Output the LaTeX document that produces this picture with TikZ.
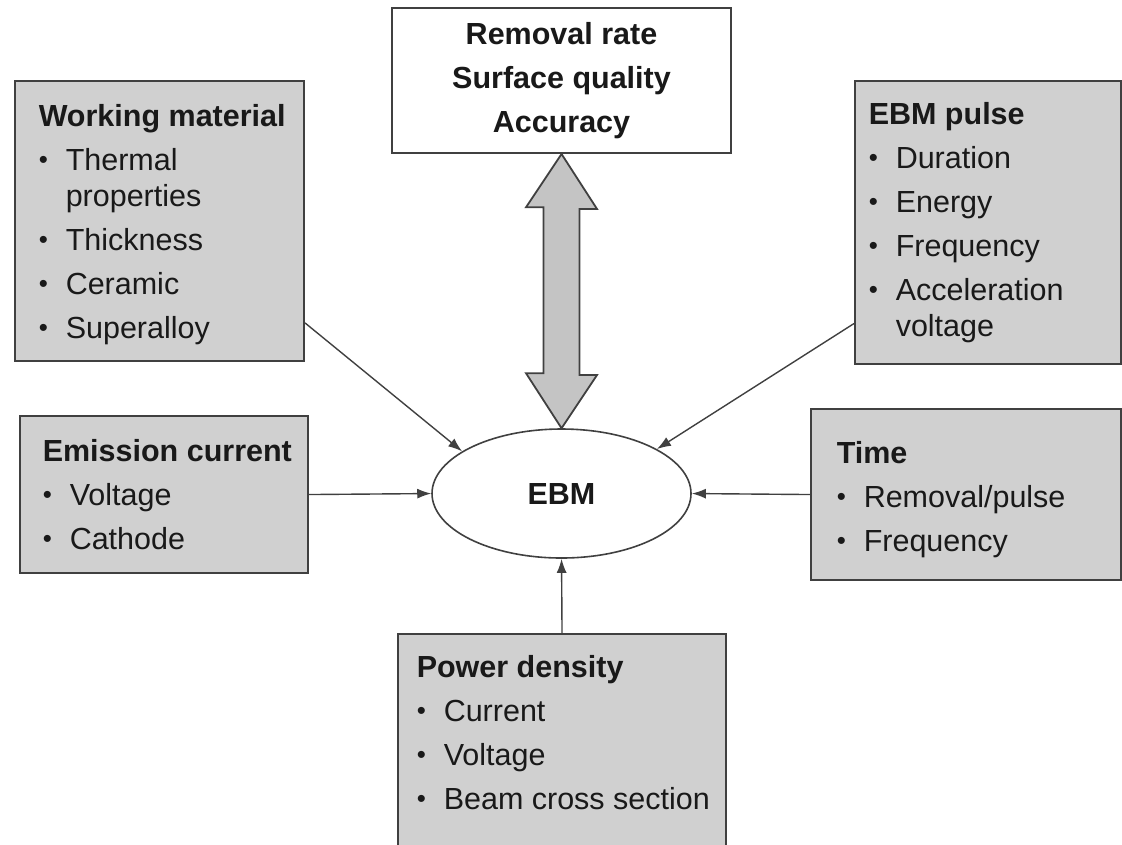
\documentclass[tikz,border=0pt]{standalone}
\usepackage{fontspec}
\setmainfont{Liberation Sans}
\usetikzlibrary{arrows.meta,shapes.geometric,positioning}
\definecolor{boxgray}{RGB}{208,208,208}
\definecolor{arrowgray}{RGB}{196,196,196}
\definecolor{linegray}{RGB}{64,64,64}
\definecolor{inkgray}{RGB}{25,25,25}
\newcommand{\boxfont}{\fontsize{15.25}{22}\selectfont}
\newcommand{\itm}[1]{\makebox[13.5pt][l]{\raisebox{1pt}{\scalebox{0.85}{\textbullet}}}#1}
\newcommand{\wrp}[1]{\hspace*{13.5pt}#1}
\tikzset{every picture/.style={line width=0.75pt}}
\tikzset{
  graybox/.style={draw=linegray, fill=boxgray, line width=1pt, anchor=north west, inner sep=0pt},
  listtext/.style={anchor=north west, inner sep=0pt, align=left, text=inkgray, font=\boxfont},
  resultbox/.style={draw=linegray, fill=white, line width=1pt, align=center, text=inkgray, font=\boxfont\bfseries},
  ebmnode/.style={ellipse, draw=linegray, fill=white, line width=0.8pt, inner sep=0pt, text=inkgray, font=\boxfont\bfseries},
  conn/.style={draw=linegray, line width=0.7pt, -{Latex[length=7pt,width=5pt]}},
  fatarrow/.style={draw=linegray, fill=arrowgray, line width=0.9pt, line join=miter}
}

\begin{document}
\begin{tikzpicture}[x=0.75pt,y=0.75pt,yscale=-0.6667,xscale=0.6667]
\useasboundingbox (0,0) rectangle (1122,844);

%Shape: Rectangle (output)
\node[resultbox, minimum width=169.5pt, minimum height=72.5pt] (res) at (561.5,80.5) {Removal rate\\Surface quality\\Accuracy};
%Shape: Ellipse
\node[ebmnode, minimum width=129.5pt, minimum height=64.5pt] (ebm) at (561.5,493.5) {EBM};

%Shape: Rectangle (working material)
\node[graybox, minimum width=144.5pt, minimum height=140pt] (wm) at (14,80) {};
% Text Node
\node[listtext] (wmtxt) at (38,104) {\textbf{Working material}\\
  \itm{Thermal}\\[-4pt]\wrp{properties}\\
  \itm{Thickness}\\
  \itm{Ceramic}\\
  \itm{Superalloy}};

%Shape: Rectangle (pulse)
\node[graybox, minimum width=133pt, minimum height=141.5pt] (pulse) at (854,80) {};
% Text Node
\node[listtext] (pulsetxt) at (868,102) {\textbf{EBM pulse}\\
  \itm{Duration}\\
  \itm{Energy}\\
  \itm{Frequency}\\
  \itm{Acceleration}\\[-4pt]\wrp{voltage}};

%Shape: Rectangle (emission)
\node[graybox, minimum width=144pt, minimum height=78.5pt] (emis) at (19,415) {};
% Text Node
\node[listtext] (emistxt) at (42,439) {\textbf{Emission current}\\
  \itm{Voltage}\\
  \itm{Cathode}};

%Shape: Rectangle (time)
\node[graybox, minimum width=155pt, minimum height=85.5pt] (time) at (810,408) {};
% Text Node
\node[listtext] (timetxt) at (836,441) {\textbf{Time}\\
  \itm{Removal/pulse}\\
  \itm{Frequency}};

%Shape: Rectangle (power)
\node[graybox, minimum width=164pt, minimum height=107.5pt] (power) at (397,633) {};
% Text Node
\node[listtext] (powertxt) at (416,655) {\textbf{Power density}\\
  \itm{Current}\\
  \itm{Voltage}\\
  \itm{Beam cross section}};

%Double Arrow
\draw[fatarrow] (res.south) -- ++(35.5,55) -- ++(-17.5,0) -- ++(0,166) -- ++(17.5,0)
  -- (ebm.north) -- ++(-35.5,-55) -- ++(17.5,0) -- ++(0,-166) -- ++(-17.5,0) -- cycle;

%Straight Lines
\draw[conn] (wm.-35) -- (ebm.157);
\draw[conn] (pulse.-143) -- (ebm.25);
\draw[conn] (emis.east) -- (ebm.west);
\draw[conn] (time.west) -- (ebm.east);
\draw[conn] (power.north) -- (ebm.south);

\end{tikzpicture}
\end{document}
